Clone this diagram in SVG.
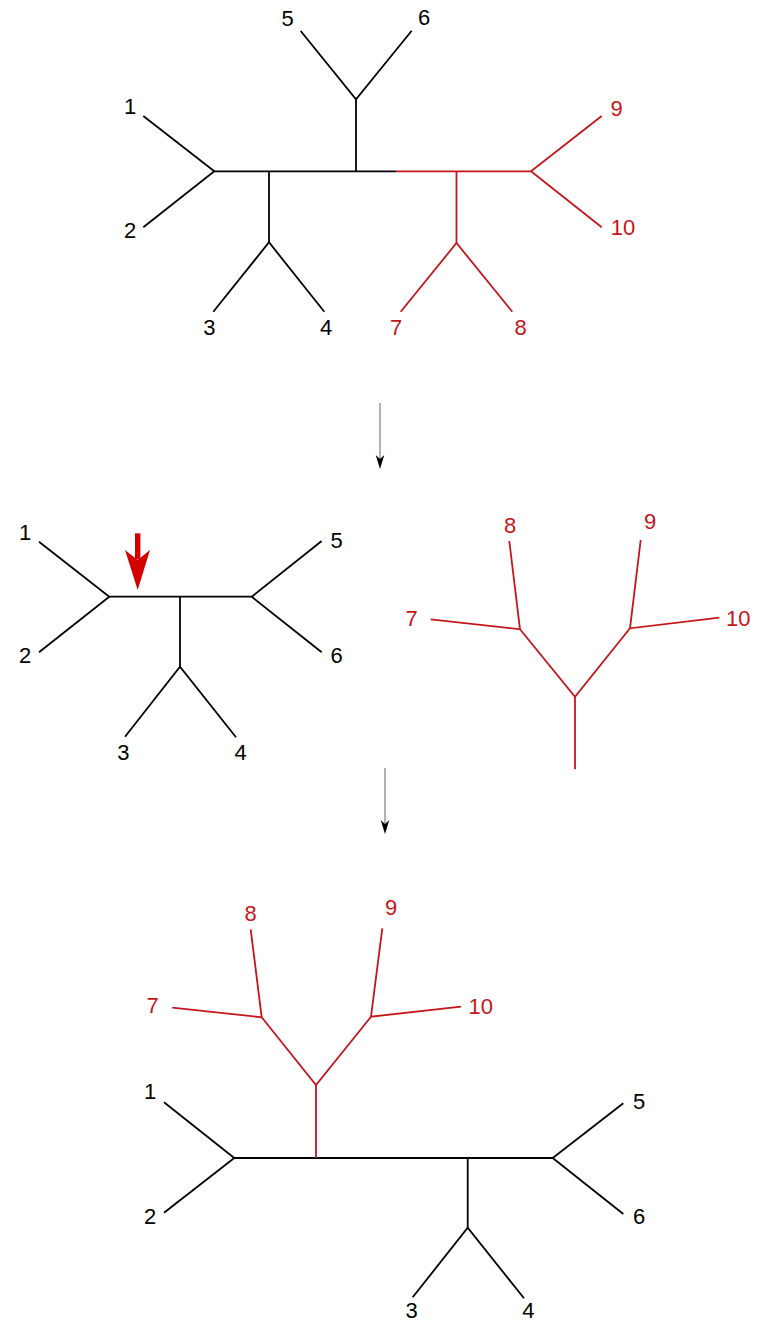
<svg xmlns="http://www.w3.org/2000/svg" width="757" height="1320" viewBox="0 0 757 1320">
<style>
.k{stroke:#000;stroke-width:1.8;fill:none;stroke-linecap:butt;stroke-linejoin:miter}
.r{stroke:#c4161c;stroke-width:1.8;fill:none;stroke-linecap:butt;stroke-linejoin:miter}
text{font-family:"Liberation Sans",Arial,sans-serif;font-size:22px;text-anchor:middle}
.tk{fill:#000}
.tr{fill:#c4161c}
.step{stroke:#888;stroke-width:1.3}
</style>
<rect width="757" height="1320" fill="#fff"/>
<g id="connectors">
  <g id="top-edges">
    <polyline class="k" points="143.3,116 214.3,171.3 143.3,227.3"/>
    <line class="k" x1="214.3" y1="171.3" x2="396" y2="171.3"/>
    <polyline class="k" points="213.3,311.7 269,242.3 324.3,311.7"/>
    <line class="k" x1="269" y1="171.3" x2="269" y2="242.3"/>
    <polyline class="k" points="300.7,31 356,99.3 411.7,30.7"/>
    <line class="k" x1="356" y1="99.3" x2="356" y2="171.3"/>
    <line class="r" x1="396" y1="171.3" x2="531" y2="171.3"/>
    <line class="r" x1="456.5" y1="171.3" x2="456.5" y2="243"/>
    <polyline class="r" points="400.7,311.7 456.5,243 512.3,311.7"/>
    <polyline class="r" points="601.7,116 531,171.3 601.7,227.3"/>
  </g>
  <g id="mid-edges">
    <polyline class="k" points="39,541.7 109.3,596.7 39,652.3"/>
    <line class="k" x1="109.3" y1="596.7" x2="251.7" y2="596.7"/>
    <line class="k" x1="180" y1="596.7" x2="180" y2="666.7"/>
    <polyline class="k" points="125,736.7 180,666.7 236,737.3"/>
    <polyline class="k" points="321.7,541 251.7,596.7 321.7,652.3"/>
  </g>
  <g id="mid-red-edges">
    <polyline class="r" points="509.3,541 520,629.3 430.7,619.3"/>
    <polyline class="r" points="640.7,540 630,628.3 719.3,617.7"/>
    <polyline class="r" points="520,629.3 575,696.7 630,628.3"/>
    <line class="r" x1="575" y1="696.7" x2="575" y2="769.3"/>
  </g>
  <g id="bottom-edges">
    <polyline class="k" points="164,1102.3 234.3,1158 164,1212.7"/>
    <line class="k" x1="234.3" y1="1158" x2="552.7" y2="1158"/>
    <line class="k" x1="467.7" y1="1158" x2="467.7" y2="1227.7"/>
    <polyline class="k" points="412.7,1297.3 467.7,1227.7 524,1298.3"/>
    <polyline class="k" points="623.3,1103.3 552.7,1158 623.3,1214"/>
    <line class="r" x1="316" y1="1085" x2="316" y2="1158"/>
    <polyline class="r" points="261.7,1017.3 316,1085 371,1016.7"/>
    <polyline class="r" points="250.7,929.3 261.7,1017.3 172.3,1007.7"/>
    <polyline class="r" points="382.3,928.3 371,1016.7 461,1006.7"/>
  </g>
  <g id="step-arrows">
    <line class="step" x1="380" y1="403" x2="380" y2="462"/>
    <polygon points="375.7,455 380,469 384.3,455 380,459" fill="#000"/>
    <line class="step" x1="385" y1="768" x2="385" y2="827"/>
    <polygon points="380.7,820 385,834 389.3,820 385,824" fill="#000"/>
  </g>
  <g id="graft-arrow">
    <rect x="135" y="533.3" width="5.4" height="26" fill="#d40000"/>
    <polygon points="125,550 137.7,590 150,550 137.7,560" fill="#d40000"/>
  </g>
</g>
<g id="top-labels">
  <g id="t1"><text class="tk" x="130" y="114">1</text></g>
  <g id="t2"><text class="tk" x="130" y="238">2</text></g>
  <g id="t3"><text class="tk" x="209.3" y="334.7">3</text></g>
  <g id="t4"><text class="tk" x="326" y="334.7">4</text></g>
  <g id="t5"><text class="tk" x="287.7" y="26.3">5</text></g>
  <g id="t6"><text class="tk" x="424" y="25.3">6</text></g>
  <g id="t7"><text class="tr" x="396" y="334.7">7</text></g>
  <g id="t8"><text class="tr" x="520.7" y="334.7">8</text></g>
  <g id="t9"><text class="tr" x="616.7" y="116.3">9</text></g>
  <g id="t10"><text class="tr" x="623" y="234.7">10</text></g>
</g>
<g id="mid-labels">
  <g id="m1"><text class="tk" x="25" y="539.7">1</text></g>
  <g id="m2"><text class="tk" x="25" y="663">2</text></g>
  <g id="m3"><text class="tk" x="123.3" y="759.7">3</text></g>
  <g id="m4"><text class="tk" x="240.7" y="759.7">4</text></g>
  <g id="m5"><text class="tk" x="336.7" y="548">5</text></g>
  <g id="m6"><text class="tk" x="336.7" y="663">6</text></g>
  <g id="m7"><text class="tr" x="411.7" y="626.3">7</text></g>
  <g id="m8"><text class="tr" x="510" y="533">8</text></g>
  <g id="m9"><text class="tr" x="650" y="528.7">9</text></g>
  <g id="m10"><text class="tr" x="738.3" y="626.3">10</text></g>
</g>
<g id="bottom-labels">
  <g id="b1"><text class="tk" x="150" y="1099">1</text></g>
  <g id="b2"><text class="tk" x="150" y="1224">2</text></g>
  <g id="b3"><text class="tk" x="411.7" y="1317.5">3</text></g>
  <g id="b4"><text class="tk" x="528.3" y="1317.5">4</text></g>
  <g id="b5"><text class="tk" x="639" y="1108.7">5</text></g>
  <g id="b6"><text class="tk" x="639" y="1224">6</text></g>
  <g id="b7"><text class="tr" x="152.7" y="1013">7</text></g>
  <g id="b8"><text class="tr" x="250.7" y="921.3">8</text></g>
  <g id="b9"><text class="tr" x="391" y="915.3">9</text></g>
  <g id="b10"><text class="tr" x="480.7" y="1014">10</text></g>
</g>
</svg>
